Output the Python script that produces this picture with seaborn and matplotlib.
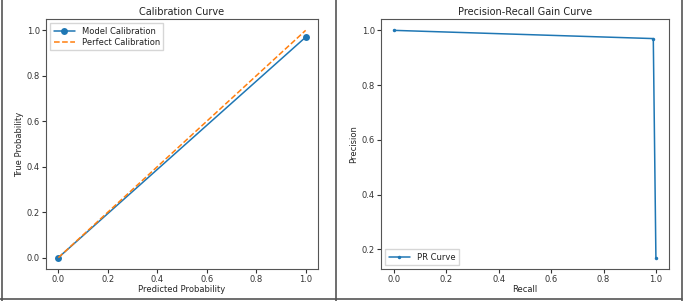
import matplotlib
matplotlib.use("Agg")
import matplotlib.pyplot as plt
import seaborn as sns
from matplotlib.lines import Line2D

# calibration data
pred_prob = [0.0, 1.0]
true_prob = [0.0, 0.97]
perfect = [0.0, 1.0]

# precision-recall data
recall = [0.0, 0.99, 1.0]
precision = [1.0, 0.97, 0.17]

sns.set_style("ticks")
plt.rcParams["font.family"] = ["DejaVu Sans"]
plt.rcParams["axes.edgecolor"] = "#555555"
plt.rcParams["xtick.color"] = "#333333"
plt.rcParams["ytick.color"] = "#333333"
plt.rcParams["text.color"] = "#222222"

blue = "#1f77b4"
orange = "#ff7f0e"
fs = 6

fig = plt.figure(figsize=(6.85, 3.01), dpi=100)
ax1 = fig.add_axes([46 / 685, 32 / 301, 272 / 685, 250 / 301])
ax2 = fig.add_axes([381 / 685, 32 / 301, 288 / 685, 250 / 301])

# left: calibration curve
sns.lineplot(x=pred_prob, y=true_prob, marker="o", markersize=5, markeredgewidth=0,
             color=blue, label="Model Calibration", ax=ax1, linewidth=1.1)
sns.lineplot(x=perfect, y=perfect, color=orange, linestyle="--",
             label="Perfect Calibration", ax=ax1, linewidth=1.1)
ax1.set_title("Calibration Curve", fontsize=7, pad=3)
ax1.set_xlabel("Predicted Probability", fontsize=fs, labelpad=0.5)
ax1.set_ylabel("True Probability", fontsize=fs, labelpad=1.5)
ax1.legend(loc="upper left", fontsize=fs, handlelength=2.6, borderpad=0.4,
           labelspacing=0.3, fancybox=False, edgecolor="#cccccc")

# right: precision-recall curve
sns.lineplot(x=recall, y=precision, marker="o", markersize=2.5, markeredgewidth=0,
             color=blue, label="PR Curve", ax=ax2, linewidth=1.1)
ax2.set_title("Precision-Recall Gain Curve", fontsize=7, pad=3)
ax2.set_xlabel("Recall", fontsize=fs, labelpad=0.5)
ax2.set_ylabel("Precision", fontsize=fs, labelpad=2.5)
ax2.legend(loc="lower left", fontsize=fs, handlelength=2.6, borderpad=0.4,
           fancybox=False, edgecolor="#cccccc")

for ax in (ax1, ax2):
    ax.tick_params(labelsize=fs, length=3, width=0.8, pad=1.5)
    for s in ax.spines.values():
        s.set_visible(True)
        s.set_linewidth(0.8)

ax1.set_xticks([0.0, 0.2, 0.4, 0.6, 0.8, 1.0])
ax1.set_yticks([0.0, 0.2, 0.4, 0.6, 0.8, 1.0])
ax2.set_xticks([0.0, 0.2, 0.4, 0.6, 0.8, 1.0])
ax2.set_yticks([0.2, 0.4, 0.6, 0.8, 1.0])

# screenshot frame lines
frame = dict(color="#555555", linewidth=1.2, transform=fig.transFigure)
for xs, ys in [([1.5 / 685, 1.5 / 685], [0, 1]),
               ([335.5 / 685, 335.5 / 685], [0, 1]),
               ([681.5 / 685, 681.5 / 685], [0, 1]),
               ([0, 682 / 685], [2.5 / 301, 2.5 / 301])]:
    fig.add_artist(Line2D(xs, ys, **frame))

fig.savefig("out.png", dpi=100)
